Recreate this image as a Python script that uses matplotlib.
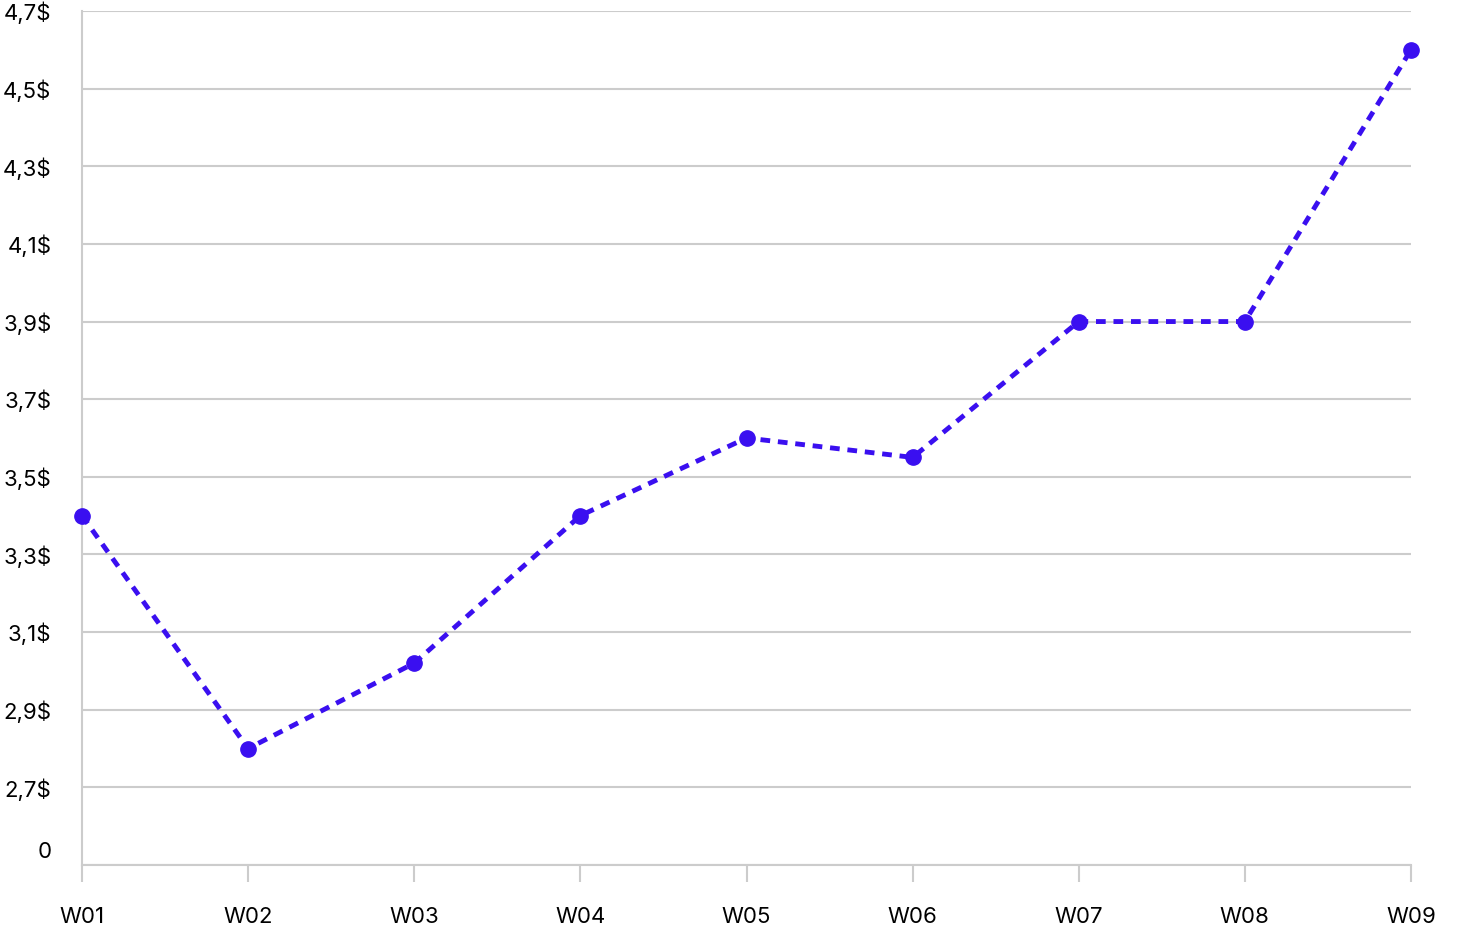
import matplotlib.pyplot as plt
from matplotlib.transforms import ScaledTranslation

plt.rcParams['font.family'] = ['Inter', 'DejaVu Sans']

weeks = ["W01", "W02", "W03", "W04", "W05", "W06", "W07", "W08", "W09"]
prices = [3.40, 2.80, 3.02, 3.40, 3.60, 3.55, 3.90, 3.90, 4.60]
yticks = [2.5, 2.7, 2.9, 3.1, 3.3, 3.5, 3.7, 3.9, 4.1, 4.3, 4.5, 4.7]
ylabels = ["0"] + [f"{v:.1f}$".replace(".", ",") for v in yticks[1:]]

fig = plt.figure(figsize=(14.6, 9.32), dpi=100)
ax = fig.add_axes([82 / 1460, 1 - 865 / 932, (1411 - 82) / 1460, (865 - 11) / 932])

x = list(range(len(weeks)))
ax.plot(x, prices, color="#3a0ff0", linestyle=(0, (2, 1.6)), linewidth=3.5,
        marker="o", markersize=11, zorder=3, clip_on=False)

ax.set_xlim(0, len(weeks) - 1)
ax.set_ylim(2.5, 4.7)
ax.set_xticks(x)
ax.set_xticklabels(weeks, fontsize=16)
ax.set_yticks(yticks)
ax.set_yticklabels(ylabels, fontsize=16)
ax.yaxis.grid(True, color="#cccccc", linewidth=1.5)
ax.set_axisbelow(True)
for s in ["top", "right"]:
    ax.spines[s].set_visible(False)
ax.spines["left"].set_color("#cccccc")
ax.spines["bottom"].set_color("#cccccc")
ax.spines["left"].set_linewidth(1.5)
ax.spines["bottom"].set_linewidth(1.5)
ax.tick_params(axis="y", length=0, pad=22)
ax.tick_params(axis="x", length=12, width=1.5, color="#cccccc", pad=18)

# lift the "0" label a little, as in the reference
lbl0 = ax.yaxis.get_major_ticks()[0].label1
lbl0.set_transform(lbl0.get_transform() + ScaledTranslation(0, 0.15, fig.dpi_scale_trans))

fig.savefig("out.png", dpi=100)
